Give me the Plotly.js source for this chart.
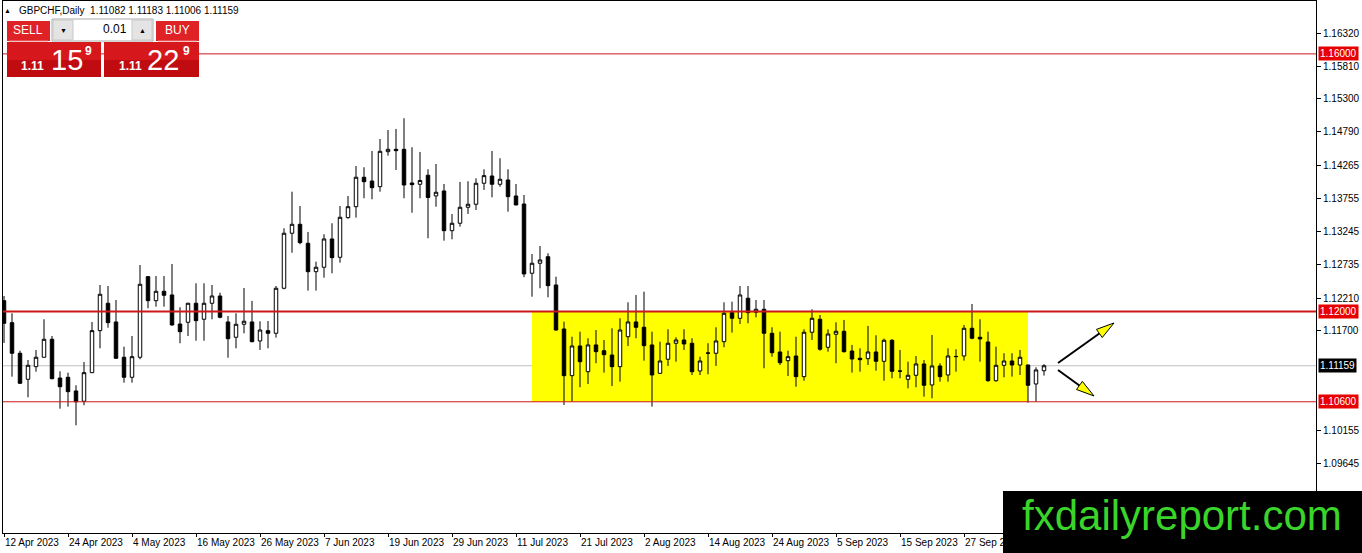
<!DOCTYPE html>
<html>
<head>
<meta charset="utf-8">
<script src="https://cdn.plot.ly/plotly-3.0.1.min.js"></script>
<style>
html, body { margin: 0; padding: 0; background: #fff; }
#chart { width: 1362px; height: 553px; }
</style>
</head>
<body>
<div id="chart"></div>
<script>
let symbol = "GBPCHF"
let period = "Daily"

// daily bars, first one is 12 Apr 2023
let opens = [
    1.12169, 1.11828, 1.11353, 1.10949, 1.11145, 1.11291, 1.11570, 1.10969, 1.10980, 1.10768,
    1.10608, 1.11052, 1.11704, 1.12129, 1.11839, 1.11291, 1.10980, 1.11291, 1.12542, 1.12169,
    1.12315, 1.12258, 1.11807, 1.11834, 1.12129, 1.11881, 1.12129, 1.12242, 1.11839, 1.11601,
    1.11803, 1.11839, 1.11544, 1.11704, 1.11663, 1.12362, 1.13216, 1.13355, 1.13060, 1.12619,
    1.12688, 1.13127, 1.12843, 1.13458, 1.13628, 1.14085, 1.14027, 1.13939, 1.14482, 1.14519,
    1.14519, 1.13996, 1.13976, 1.14116, 1.13795, 1.13872, 1.13256, 1.13371, 1.13619, 1.13666,
    1.13992, 1.14105, 1.13976, 1.14043, 1.13795, 1.13670, 1.12595, 1.12750, 1.12852, 1.12413,
    1.11730, 1.11005, 1.11466, 1.11067, 1.11482, 1.11393, 1.11326, 1.11145, 1.11610, 1.11839,
    1.11756, 1.11482, 1.11042, 1.11260, 1.11508, 1.11559, 1.11508, 1.11078, 1.11353, 1.11353,
    1.11533, 1.11983, 1.11896, 1.12207, 1.11989, 1.12036, 1.11663, 1.11373, 1.11238, 1.11311,
    1.10990, 1.11679, 1.11881, 1.11446, 1.11648, 1.11694, 1.11388, 1.11275, 1.11269, 1.11373,
    1.11228, 1.11555, 1.11078, 1.10949, 1.11011, 1.11187, 1.10861, 1.11156, 1.11016, 1.11300,
    1.11311, 1.11741, 1.11601, 1.11528, 1.10927, 1.11166, 1.11233, 1.11171, 1.11171, 1.10876,
    1.11082
]
let highs = [
    1.12242, 1.11974, 1.11393, 1.11249, 1.11404, 1.11881, 1.11621, 1.11073, 1.11052, 1.10856,
    1.11218, 1.11839, 1.12413, 1.12397, 1.12180, 1.11455, 1.11621, 1.12723, 1.12553, 1.12553,
    1.12553, 1.12739, 1.12067, 1.12135, 1.12439, 1.12439, 1.12413, 1.12293, 1.11932, 1.11974,
    1.12366, 1.12165, 1.11850, 1.11854, 1.12397, 1.13293, 1.13861, 1.13639, 1.13236, 1.12775,
    1.13200, 1.13371, 1.13639, 1.13795, 1.14260, 1.14240, 1.14493, 1.14679, 1.14819, 1.14835,
    1.15001, 1.14551, 1.14478, 1.14209, 1.14291, 1.13981, 1.13515, 1.14012, 1.14023, 1.14069,
    1.14209, 1.14493, 1.14380, 1.14209, 1.13981, 1.13810, 1.12894, 1.13018, 1.12905, 1.12542,
    1.11843, 1.11610, 1.11688, 1.11586, 1.11714, 1.11559, 1.11741, 1.11896, 1.12144, 1.12258,
    1.12309, 1.11688, 1.11533, 1.11725, 1.11601, 1.11725, 1.11586, 1.11300, 1.11508, 1.11756,
    1.12144, 1.12154, 1.12397, 1.12397, 1.12180, 1.12180, 1.11756, 1.11688, 1.11393, 1.11610,
    1.11725, 1.12036, 1.11947, 1.11725, 1.11834, 1.11870, 1.11482, 1.11430, 1.11777, 1.11632,
    1.11580, 1.11570, 1.11404, 1.11222, 1.11311, 1.11249, 1.11637, 1.11198, 1.11430, 1.11415,
    1.11792, 1.12118, 1.11881, 1.11688, 1.11455, 1.11353, 1.11353, 1.11404, 1.11175, 1.11135,
    1.11183
]
let lows = [
    1.11513, 1.10990, 1.10876, 1.10670, 1.11067, 1.11285, 1.10950, 1.10493, 1.10524, 1.10235,
    1.10546, 1.11045, 1.11430, 1.11750, 1.11264, 1.10896, 1.10896, 1.11260, 1.12051, 1.12076,
    1.12076, 1.11781, 1.11508, 1.11621, 1.11548, 1.11548, 1.11881, 1.11896, 1.11284, 1.11430,
    1.11663, 1.11524, 1.11404, 1.11430, 1.11595, 1.12346, 1.12914, 1.13045, 1.12325, 1.12325,
    1.12526, 1.12595, 1.12759, 1.13442, 1.13458, 1.13759, 1.13743, 1.13861, 1.14420, 1.14198,
    1.13759, 1.13535, 1.13759, 1.13138, 1.13628, 1.13101, 1.13122, 1.13318, 1.13515, 1.13577,
    1.13888, 1.13774, 1.13939, 1.13551, 1.13650, 1.12533, 1.12231, 1.12362, 1.12222, 1.11704,
    1.10550, 1.10601, 1.10825, 1.10876, 1.11198, 1.11052, 1.10845, 1.10912, 1.11466, 1.11586,
    1.11238, 1.10524, 1.11031, 1.11156, 1.11222, 1.11404, 1.11016, 1.11016, 1.11027, 1.11156,
    1.11446, 1.11673, 1.11807, 1.11818, 1.11911, 1.11120, 1.11300, 1.11171, 1.11000, 1.10834,
    1.10927, 1.11559, 1.11393, 1.11378, 1.11198, 1.11362, 1.11052, 1.11067, 1.11171, 1.11083,
    1.10927, 1.10965, 1.10965, 1.10809, 1.10825, 1.10679, 1.10654, 1.10912, 1.10912, 1.11067,
    1.11238, 1.11570, 1.11222, 1.10912, 1.10912, 1.10980, 1.10990, 1.11016, 1.10586, 1.10601,
    1.11006
]
let closes = [
    1.11818, 1.11353, 1.10887, 1.11166, 1.11291, 1.11570, 1.10958, 1.10834, 1.10757, 1.10601,
    1.11052, 1.11704, 1.12269, 1.11828, 1.11275, 1.10980, 1.11300, 1.12424, 1.12169, 1.12315,
    1.12253, 1.11792, 1.11688, 1.12129, 1.11859, 1.12129, 1.12242, 1.11911, 1.11579, 1.11803,
    1.11850, 1.11533, 1.11714, 1.11663, 1.12362, 1.13216, 1.13355, 1.13070, 1.12619, 1.12688,
    1.13127, 1.12837, 1.13464, 1.13628, 1.14085, 1.14016, 1.13923, 1.14488, 1.14519, 1.14498,
    1.13965, 1.13970, 1.14035, 1.13771, 1.13852, 1.13256, 1.13371, 1.13619, 1.13666, 1.13992,
    1.14110, 1.13976, 1.14054, 1.13784, 1.13655, 1.12584, 1.12750, 1.12801, 1.12402, 1.11714,
    1.11005, 1.11466, 1.11222, 1.11482, 1.11378, 1.11331, 1.11145, 1.11714, 1.11839, 1.11756,
    1.11471, 1.11016, 1.11233, 1.11508, 1.11559, 1.11497, 1.11067, 1.11233, 1.11357, 1.11544,
    1.11974, 1.11896, 1.12258, 1.11983, 1.12036, 1.11663, 1.11362, 1.11207, 1.11300, 1.10990,
    1.11679, 1.11896, 1.11415, 1.11652, 1.11694, 1.11378, 1.11264, 1.11253, 1.11373, 1.11228,
    1.11555, 1.11073, 1.11075, 1.11011, 1.11187, 1.10856, 1.11156, 1.10990, 1.11311, 1.11303,
    1.11741, 1.11586, 1.11575, 1.10927, 1.11166, 1.11233, 1.11171, 1.11291, 1.10856, 1.11094,
    1.11159
]

// MT4 puts a date label every 8 bars
let dateLabels = ["12 Apr 2023", "24 Apr 2023", "4 May 2023", "16 May 2023", "26 May 2023",
    "7 Jun 2023", "19 Jun 2023", "29 Jun 2023", "11 Jul 2023", "21 Jul 2023", "2 Aug 2023",
    "14 Aug 2023", "24 Aug 2023", "5 Sep 2023", "15 Sep 2023", "27 Sep 2023"]
let barsPerLabel = 8
let priceTicks = [1.16320, 1.15810, 1.15300, 1.14790, 1.14265, 1.13755, 1.13245, 1.12735,
    1.12210, 1.11700, 1.10155, 1.09645]

let levelLines = [1.16000, 1.12000, 1.10600]
let levelWidths = [1, 2, 1]
let rangeStartBar = 66
let rangeEndBar = 128
let rangeTop = 1.12000
let rangeBottom = 1.10600
let askPrice = 1.11229
let lotSize = "0.01"

// arrows drawn after the last bar: [bar, price] tail and tip
let arrowUp = [[131.75, 1.11202], [138.75, 1.11823]]
let arrowDown = [[131.75, 1.11093], [136.25, 1.10690]]

let pageW = 1362, pageH = 553
let margin = { l: 3, r: 46, t: 1, b: 20 }
let plotW = pageW - margin.l - margin.r
let plotH = pageH - margin.t - margin.b
let xRange = [-0.125, 164]
let yRange = [1.08563, 1.16821]
let pxPerBar = plotW / (xRange[1] - xRange[0])
let pxPerPrice = plotH / (yRange[1] - yRange[0])

let lineRed = "rgb(204,24,24)"
let uiFont = "Liberation Sans, Arial, sans-serif"
let last = closes.length - 1

let candles = {
    type: "candlestick",
    x: closes.map((_, i) => i),
    open: opens,
    high: highs,
    low: lows,
    close: closes,
    increasing: { line: { color: "black", width: 1 }, fillcolor: "white" },
    decreasing: { line: { color: "black", width: 1 }, fillcolor: "black" },
    whiskerwidth: 0,
    hoverinfo: "skip",
    showlegend: false
}

// shapes/annotations placed by page pixel, anchored at the plot's top-left corner
function pxRect(x0, y0, x1, y1, fill, line) {
    return {
        type: "rect", xref: "paper", yref: "paper", xsizemode: "pixel", ysizemode: "pixel",
        xanchor: 0, yanchor: 1,
        x0: x0 - margin.l, x1: x1 - margin.l, y0: margin.t - y0, y1: margin.t - y1,
        fillcolor: fill, line: line || { width: 0 }, layer: "above"
    }
}

function pxLine(x0, y0, x1, y1, color) {
    let s = pxRect(x0, y0, x1, y1, null, { color: color, width: 1 })
    s.type = "line"
    return s
}

function pxText(text, x, y, anchor, size, color, bold) {
    return {
        text: bold ? "<b>" + text + "</b>" : text,
        xref: "paper", yref: "paper", x: 0, y: 1,
        xshift: x - margin.l, yshift: margin.t - y,
        xanchor: anchor, yanchor: "middle", showarrow: false,
        font: { family: uiFont, size: size, color: color }, borderpad: 0
    }
}

function arrowShapes(arrow) {
    let tail = arrow[0], tip = arrow[1]
    let dx = (tip[0] - tail[0]) * pxPerBar
    let dy = (tip[1] - tail[1]) * pxPerPrice
    let len = Math.hypot(dx, dy)
    let ux = dx / len, uy = dy / len
    let headLen = 18, headHalf = 5
    let toData = (px, py) => [tip[0] + px / pxPerBar, tip[1] + py / pxPerPrice]
    let base = toData(-ux * headLen, -uy * headLen)
    let left = toData(-ux * headLen - uy * headHalf, -uy * headLen + ux * headHalf)
    let right = toData(-ux * headLen + uy * headHalf, -uy * headLen - ux * headHalf)
    return [
        {
            type: "line", xref: "x", yref: "y", x0: tail[0], y0: tail[1], x1: base[0], y1: base[1],
            line: { color: "black", width: 2 }, layer: "above"
        },
        {
            type: "path", xref: "x", yref: "y", layer: "above",
            path: "M" + tip[0] + "," + tip[1] + " L" + left[0] + "," + left[1] +
                " L" + right[0] + "," + right[1] + " Z",
            fillcolor: "rgb(255,255,0)", line: { color: "black", width: 1 }
        }
    ]
}

let shapes = []

shapes.push({
    type: "rect", xref: "x", yref: "y", x0: rangeStartBar, x1: rangeEndBar,
    y0: rangeBottom, y1: rangeTop, fillcolor: "rgb(255,255,0)", line: { width: 0 }, layer: "below"
})

shapes.push({
    type: "line", xref: "paper", yref: "y", x0: 0, x1: 1, y0: closes[last], y1: closes[last],
    line: { color: "rgb(192,192,192)", width: 1 }, layer: "below"
})

levelLines.forEach((level, k) => {
    shapes.push({
        type: "line", xref: "paper", yref: "y", x0: 0, x1: 1, y0: level, y1: level,
        line: { color: lineRed, width: levelWidths[k] }, layer: "above"
    })
})

shapes.push(...arrowShapes(arrowUp), ...arrowShapes(arrowDown))

// one-click trading panel
shapes.push(pxRect(7, 21, 50, 41, "rgb(222,34,38)"))
shapes.push(pxRect(156, 21, 199, 41, "rgb(222,34,38)"))
shapes.push(pxLine(9, 41, 48, 41, "rgb(240,130,130)"))
shapes.push(pxLine(158, 41, 197, 41, "rgb(240,130,130)"))
shapes.push(pxRect(52, 19, 153, 41, "white", { color: "rgb(170,170,170)", width: 1 }))
shapes.push(pxRect(53, 20, 73, 40, "rgb(228,228,228)", { color: "rgb(200,200,200)", width: 1 }))
shapes.push(pxRect(132, 20, 152, 40, "rgb(228,228,228)", { color: "rgb(200,200,200)", width: 1 }))
shapes.push(pxRect(7, 42, 101, 60, "rgb(214,24,28)"))
shapes.push(pxRect(7, 60, 101, 77, "rgb(192,12,16)"))
shapes.push(pxRect(104, 42, 199, 60, "rgb(214,24,28)"))
shapes.push(pxRect(104, 60, 199, 77, "rgb(192,12,16)"))

// watermark box bottom-right
shapes.push(pxRect(1003, 491, 1362, 553, "black"))

let bidText = closes[last].toFixed(5)
let askText = askPrice.toFixed(5)

let annotations = [
    pxText("▲", 7, 10, "center", 7, "black"),
    pxText(symbol + "," + period + "  " + [opens[last], highs[last], lows[last], closes[last]]
        .map(v => v.toFixed(5)).join(" "), 18, 10, "left", 10, "black"),
    pxText("SELL", 28, 30, "center", 12, "white"),
    pxText("BUY", 177, 30, "center", 12, "white"),
    pxText("▼", 63, 30, "center", 7, "black"),
    pxText("▲", 142, 30, "center", 7, "black"),
    pxText(lotSize, 128, 29, "right", 12, "black"),
    pxText(bidText.slice(0, 4), 20, 66, "left", 12, "white", true),
    pxText(bidText.slice(4, 6), 50, 60, "left", 29, "white"),
    pxText(bidText.slice(6), 88, 51, "center", 12, "white", true),
    pxText(askText.slice(0, 4), 118, 66, "left", 12, "white", true),
    pxText(askText.slice(4, 6), 146, 60, "left", 29, "white"),
    pxText(askText.slice(6), 186, 51, "center", 12, "white", true),
    pxText("fxdailyreport.com", 1182, 515, "center", 42, "rgb(58,212,42)")
]

levelLines.forEach(level => {
    annotations.push({
        text: level.toFixed(5), xref: "paper", yref: "y", x: 1, y: level, xshift: 2,
        xanchor: "left", yanchor: "middle", showarrow: false, bgcolor: "rgb(232,0,0)",
        font: { family: uiFont, size: 10, color: "white" }, borderpad: 1
    })
})
annotations.push({
    text: bidText, xref: "paper", yref: "y", x: 1, y: closes[last], xshift: 2,
    xanchor: "left", yanchor: "middle", showarrow: false, bgcolor: "black",
    font: { family: uiFont, size: 10, color: "white" }, borderpad: 1
})

let layout = {
    width: pageW,
    height: pageH,
    margin: margin,
    paper_bgcolor: "white",
    plot_bgcolor: "white",
    font: { family: uiFont, size: 10, color: "black" },
    showlegend: false,
    boxgap: 0.38,
    hovermode: false,
    dragmode: false,
    xaxis: {
        type: "linear",
        range: xRange,
        tickvals: dateLabels.map((_, k) => k * barsPerLabel),
        ticktext: dateLabels,
        tickangle: 0,
        ticks: "outside",
        ticklen: 3,
        tickcolor: "black",
        ticklabelposition: "outside right",
        tickfont: { family: uiFont, size: 10, color: "black" },
        showline: true,
        linecolor: "black",
        linewidth: 1,
        mirror: true,
        showgrid: false,
        zeroline: false,
        rangeslider: { visible: false },
        fixedrange: true
    },
    yaxis: {
        side: "right",
        range: yRange,
        tickvals: priceTicks,
        tickformat: ".5f",
        ticks: "outside",
        ticklen: 4,
        tickcolor: "black",
        tickfont: { family: uiFont, size: 10, color: "black" },
        showline: true,
        linecolor: "black",
        linewidth: 1,
        mirror: true,
        showgrid: false,
        zeroline: false,
        fixedrange: true
    },
    shapes: shapes,
    annotations: annotations
}

Plotly.newPlot("chart", [candles], layout, { displayModeBar: false, staticPlot: true })
</script>
</body>
</html>
